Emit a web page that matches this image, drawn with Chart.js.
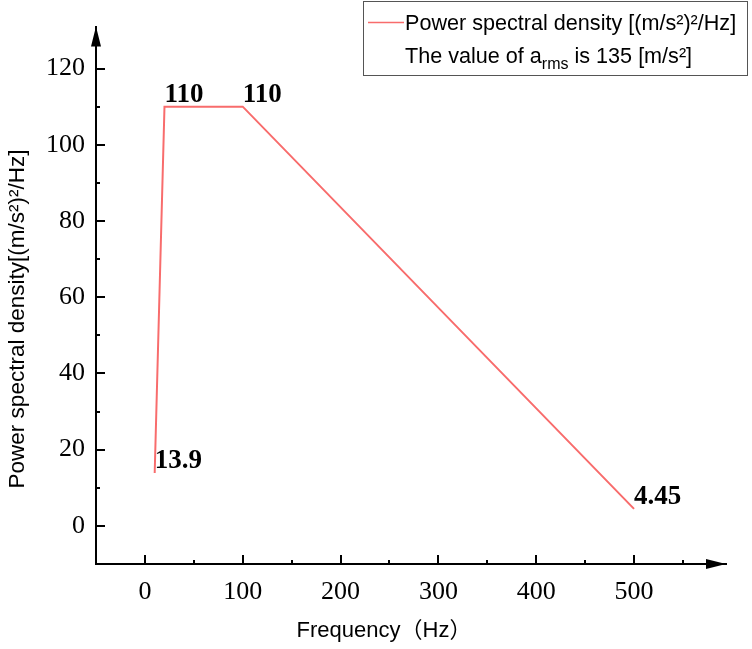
<!DOCTYPE html>
<html>
<head>
<meta charset="utf-8">
<script src="https://cdn.jsdelivr.net/npm/chart.js@4"></script>
<style>
  body { margin: 0; background: #fff; }
</style>
</head>
<body>
<canvas id="myChart" width="752" height="649"></canvas>
<script>
const frequency = [10, 20, 100, 500];
const psdValues = [13.9, 110, 110, 4.45];
const pointLabels = ["13.9", "110", "110", "4.45"];
const xTickLabels = [0, 100, 200, 300, 400, 500];
const xMinorTicks = [50, 150, 250, 350, 450, 550];
const yTickLabels = [0, 20, 40, 60, 80, 100, 120];
const yMinorTicks = [10, 30, 50, 70, 90, 110];
const seriesName = "Power spectral density [(m/s²)²/Hz]";
const rmsText = ["The value of a", "rms", " is 135 [m/s²]"];
const xTitle = "Frequency（Hz）";
const yTitle = "Power spectral density[(m/s²)²/Hz]";

const lineColor = "rgb(248,108,108)";
const sans = "'Liberation Sans', Arial, 'Noto Sans CJK SC', sans-serif";
const serif = "'Liberation Serif', 'Times New Roman', serif";

const points = frequency.map((f, i) => ({ x: f, y: psdValues[i] }));

// ticks point inwards + arrow heads, drawn on the library scales
const axisDeco = {
    id: "axisDeco",
    afterDraw(chart) {
        const ctx = chart.ctx;
        const xs = chart.scales.x, ys = chart.scales.y;
        const area = chart.chartArea;
        ctx.save();
        ctx.strokeStyle = "#000";
        ctx.fillStyle = "#000";
        ctx.lineWidth = 2;
        const y0 = area.bottom;
        const x0 = area.left;
        const drawX = (v, len) => {
            const px = Math.round(xs.getPixelForValue(v));
            ctx.beginPath(); ctx.moveTo(px, y0); ctx.lineTo(px, y0 - len); ctx.stroke();
        };
        const drawY = (v, len) => {
            const py = Math.round(ys.getPixelForValue(v));
            ctx.beginPath(); ctx.moveTo(x0, py); ctx.lineTo(x0 + len, py); ctx.stroke();
        };
        xTickLabels.forEach(v => drawX(v, 9));
        xMinorTicks.forEach(v => drawX(v, 4));
        yTickLabels.forEach(v => drawY(v, 9));
        yMinorTicks.forEach(v => drawY(v, 4));

        // arrows
        ctx.beginPath();
        ctx.moveTo(area.right, y0);
        ctx.lineTo(area.right - 20, y0 - 5);
        ctx.lineTo(area.right - 20, y0 + 5);
        ctx.closePath(); ctx.fill();
        ctx.beginPath();
        ctx.moveTo(x0, area.top);
        ctx.lineTo(x0 - 5, area.top + 20);
        ctx.lineTo(x0 + 5, area.top + 20);
        ctx.closePath(); ctx.fill();

        // axis titles
        ctx.font = "22px " + sans;
        ctx.textAlign = "center";
        ctx.textBaseline = "alphabetic";
        ctx.fillText(xTitle, 384, 637);
        ctx.save();
        ctx.translate(24, 319);
        ctx.rotate(-Math.PI / 2);
        ctx.font = "22.5px " + sans;
        ctx.fillText(yTitle, 0, 0);
        ctx.restore();

        // legend box
        ctx.lineWidth = 1;
        ctx.strokeStyle = "#555";
        ctx.strokeRect(363.5, 1.5, 384, 74);
        ctx.strokeStyle = lineColor;
        ctx.lineWidth = 1.5;
        ctx.beginPath(); ctx.moveTo(368, 22.5); ctx.lineTo(404, 22.5); ctx.stroke();
        ctx.fillStyle = "#000";
        ctx.textAlign = "left";
        ctx.font = "21.6px " + sans;
        ctx.fillText(seriesName, 405, 30);
        let tx = 405;
        ctx.fillText(rmsText[0], tx, 63);
        tx += ctx.measureText(rmsText[0]).width;
        ctx.font = "16px " + sans;
        ctx.fillText(rmsText[1], tx, 69);
        tx += ctx.measureText(rmsText[1]).width;
        ctx.font = "21.6px " + sans;
        ctx.fillText(rmsText[2], tx, 63);
        ctx.restore();
    }
};

const valueLabels = {
    id: "valueLabels",
    afterDatasetsDraw(chart) {
        const ctx = chart.ctx;
        const meta = chart.getDatasetMeta(0);
        ctx.save();
        ctx.font = "bold 27px " + serif;
        ctx.fillStyle = "#000";
        ctx.textAlign = "left";
        ctx.textBaseline = "alphabetic";
        meta.data.forEach((pt, i) => {
            ctx.fillText(pointLabels[i], pt.x, pt.y - 5);
        });
        ctx.restore();
    }
};

const ctx = document.getElementById("myChart").getContext("2d");
const myChart = new Chart(ctx, {
    type: "line",
    data: {
        datasets: [{
            label: seriesName,
            data: points,
            borderColor: lineColor,
            borderWidth: 2,
            pointRadius: 0,
            tension: 0,
            fill: false
        }]
    },
    options: {
        responsive: false,
        animation: false,
        layout: { padding: { top: 18, right: 26, left: 0, bottom: 0 } },
        plugins: {
            legend: { display: false },
            tooltip: { enabled: false }
        },
        scales: {
            x: {
                type: "linear",
                min: -50,
                max: 594,
                afterBuildTicks: (scale) => {
                    scale.ticks = xTickLabels.map(v => ({ value: v }));
                },
                afterFit: (scale) => { scale.height = 85; },
                grid: { display: false, drawTicks: false },
                border: { display: true, color: "#000", width: 2 },
                ticks: {
                    autoSkip: false,
                    maxRotation: 0,
                    padding: 13,
                    color: "#000",
                    font: { family: serif, size: 26 }
                }
            },
            y: {
                type: "linear",
                min: -10,
                max: 131,
                afterBuildTicks: (scale) => {
                    scale.ticks = yTickLabels.map(v => ({ value: v }));
                },
                afterFit: (scale) => { scale.width = 96; },
                grid: { display: false, drawTicks: false },
                border: { display: true, color: "#000", width: 2 },
                ticks: {
                    autoSkip: false,
                    padding: 11,
                    color: "#000",
                    font: { family: serif, size: 26 }
                }
            }
        }
    },
    plugins: [axisDeco, valueLabels]
});
</script>
</body>
</html>
